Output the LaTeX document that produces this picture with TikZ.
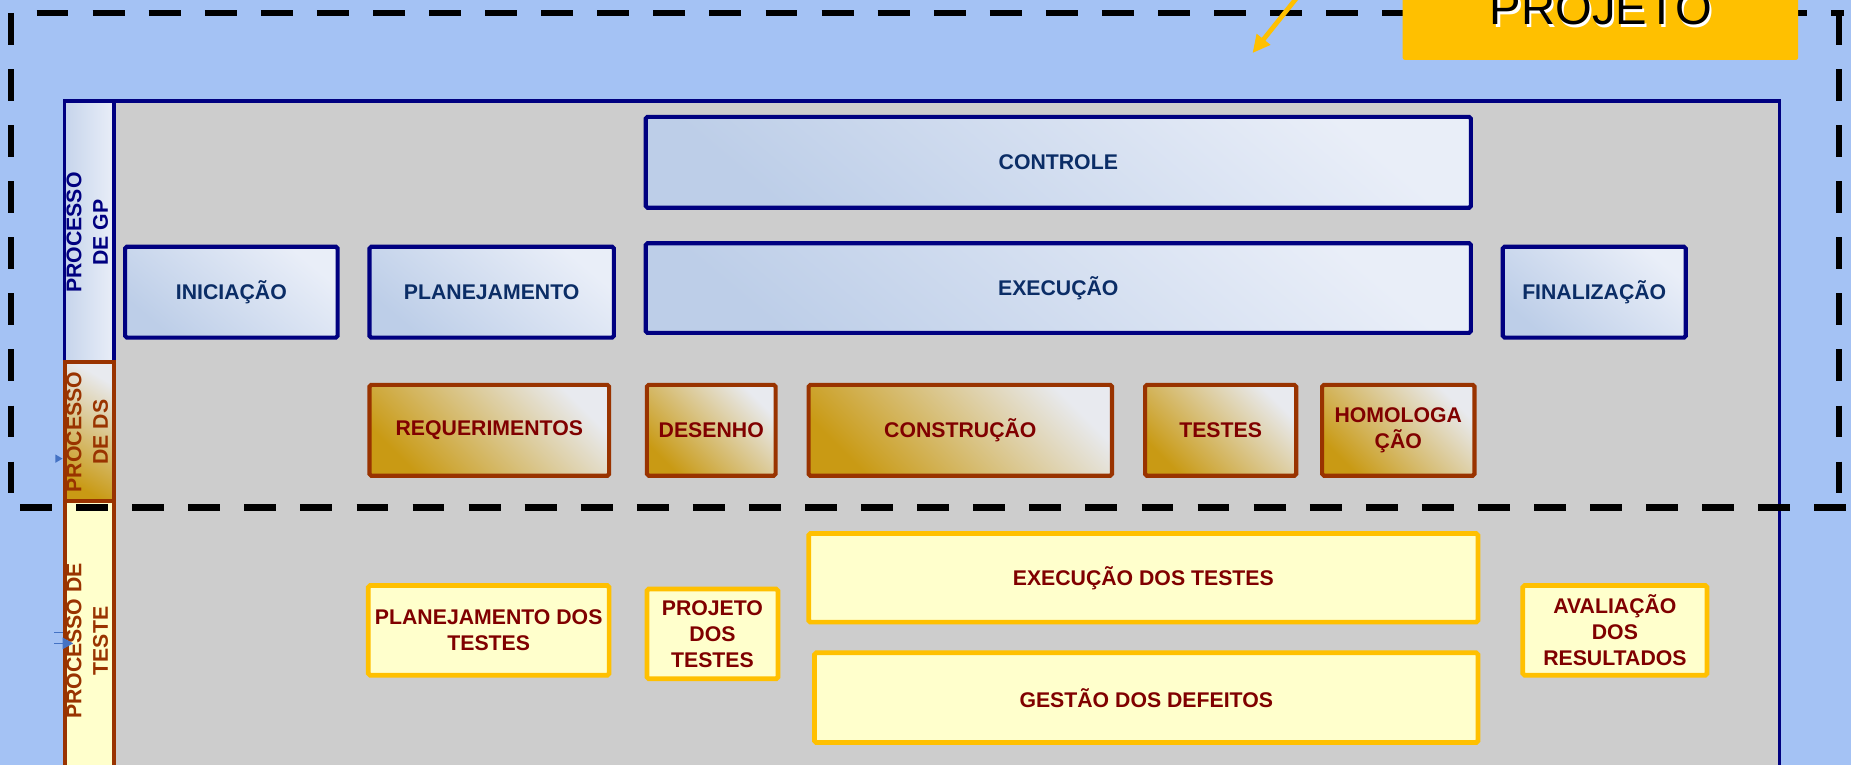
\documentclass[tikz,border=0pt]{standalone}
\usepackage{fontspec}
\setmainfont{Liberation Sans}
\usetikzlibrary{arrows.meta}
\definecolor{bgblue}{HTML}{A4C2F4}
\definecolor{panelgray}{HTML}{CDCDCD}
\definecolor{navyb}{HTML}{000080}
\definecolor{brownb}{HTML}{993300}
\definecolor{txtred}{HTML}{800000}
\definecolor{txtblue}{HTML}{0B2D66}
\definecolor{tfill}{HTML}{FFFFCC}
\definecolor{tborder}{HTML}{FFC000}
\definecolor{projfill}{HTML}{FFC000}
\definecolor{dsgold}{HTML}{C99A14}
\definecolor{dslight}{HTML}{E8EAEF}
\definecolor{bluedark}{HTML}{BDCEE8}
\definecolor{bluelight}{HTML}{E9EEF8}
\definecolor{markblue}{HTML}{4472C4}
\begin{document}
\begin{tikzpicture}[x=1pt,y=-1pt,
  box/.style={rounded corners=1.5pt, line width=3.5pt, inner sep=2pt, align=center,
    font=\fontsize{18}{22}\selectfont\bfseries},
  gpbox/.style={box, draw=navyb, text=txtblue, bottom color=bluedark, top color=bluelight, shading angle=-40},
  dsbox/.style={box, draw=brownb, text=txtred, bottom color=dsgold, top color=dslight, shading angle=-45},
  tbox/.style={box, draw=tborder, fill=tfill, text=txtred, line width=4pt},
  colbox/.style={anchor=north west, inner sep=0pt, minimum width=42pt},
  sidelabel/.style={rotate=90, align=center, inner sep=0pt,
    font=\fontsize{18}{22.5}\selectfont\bfseries},
  dashline/.style={line width=5.5pt, dash pattern=on 27pt off 20.5pt}
]
\useasboundingbox (0,0) rectangle (1568,648);
\clip (0,0) rectangle (1568,648);
\fill[bgblue] (0,0) rectangle (1568,648);

% dashed project frame (left, top, right)
\draw[dashline] (9.5,11) -- (9.5,428);
\draw[dashline] (31,11) -- (1562,11);
\draw[dashline] (1558,11) -- (1558,428);

% main panel
\node[draw=navyb, fill=panelgray, line width=3pt, minimum width=1453pt, minimum height=640pt,
  anchor=north west, inner sep=0pt] (panel) at (53,84) {};

% side columns
\node[colbox, draw=navyb, line width=3pt, minimum height=221pt,
  left color=bluedark!80!bluelight, right color=bluelight] (gpcol) at (53,84) {};
\node[colbox, draw=brownb, line width=3.5pt, minimum height=118pt,
  bottom color=dsgold, top color=dslight, shading angle=-30] (dscol) at (53,305) {};
\node[colbox, draw=brownb, line width=3.5pt, minimum height=300pt, fill=tfill] (testcol) at (53,423) {};

\node[sidelabel, text=navyb] (gplab) at (74,197) {PROCESSO\\DE GP};
\node[sidelabel, text=brownb] (dslab) at (74,366) {PROCESSO\\DE DS};
\node[sidelabel, text=brownb] (testlab) at (74,543) {PROCESSO DE\\TESTE};

% small markers
\fill[markblue] (47,385) -- (53,388.5) -- (47,392) -- cycle;
\draw[markblue, line width=0.8pt] (46,536) -- (53,536) (46,545) -- (53,545);
\fill[markblue] (53,540) -- (62,545) -- (53,550) -- cycle;

% GP boxes
\node[gpbox, minimum width=699pt, minimum height=77pt] (controle) at (896.5,137.5) {CONTROLE};
\node[gpbox, minimum width=180pt, minimum height=77pt] (iniciacao) at (196,247.5) {INICIAÇÃO};
\node[gpbox, minimum width=207pt, minimum height=77pt] (planejamento) at (416.5,247.5) {PLANEJAMENTO};
\node[gpbox, minimum width=699pt, minimum height=76pt] (execucao) at (896.5,244) {EXECUÇÃO};
\node[gpbox, minimum width=155pt, minimum height=77pt] (finalizacao) at (1350.5,247.5) {FINALIZAÇÃO};

% DS boxes
\node[dsbox, minimum width=203pt, minimum height=77pt] (requerimentos) at (414.5,364.5) {REQUERIMENTOS};
\node[dsbox, minimum width=109pt, minimum height=77pt] (desenho) at (602.5,364.5) {DESENHO};
\node[dsbox, minimum width=257pt, minimum height=77pt] (construcao) at (813.5,364.5) {CONSTRUÇÃO};
\node[dsbox, minimum width=128pt, minimum height=77pt] (testes) at (1034,364.5) {TESTES};
\node[dsbox, minimum width=129pt, minimum height=77pt] (homologacao) at (1184.5,364.5) {HOMOLOGA\\ÇÃO};

% test boxes
\node[tbox, minimum width=204pt, minimum height=76pt] (plantestes) at (414,534) {PLANEJAMENTO DOS\\TESTES};
\node[tbox, minimum width=111pt, minimum height=76pt] (projtestes) at (603.5,537) {PROJETO\\DOS\\TESTES};
\node[tbox, minimum width=567pt, minimum height=75pt] (exectestes) at (968.5,489.5) {EXECUÇÃO DOS TESTES};
\node[tbox, minimum width=562pt, minimum height=76pt] (gestao) at (971,591) {GESTÃO DOS DEFEITOS};
\node[tbox, minimum width=156pt, minimum height=76pt] (avaliacao) at (1368,534) {AVALIAÇÃO\\DOS\\RESULTADOS};

% bottom dashed line of project frame
\draw[dashline] (17,430) -- (1566,430);

% PROJETO label and arrow
\node[fill=projfill, rounded corners=2pt, minimum width=335pt, minimum height=75pt,
  anchor=south west, inner sep=0pt] (projbox) at (1188,51) {};
\node[anchor=base, text=white, font=\fontsize{40}{48}\selectfont] (projshadow) at (1358,23) {PROJETO};
\node[anchor=base, text=black, font=\fontsize{40}{48}\selectfont] (projtxt) at (1356,21) {PROJETO};
\coordinate (arrS) at (1101,-5);
\coordinate (arrE) at (1061,45);
\draw[projfill, line width=4pt, -{Triangle[length=15pt,width=14pt]}] (arrS) -- (arrE);
\end{tikzpicture}
\end{document}
